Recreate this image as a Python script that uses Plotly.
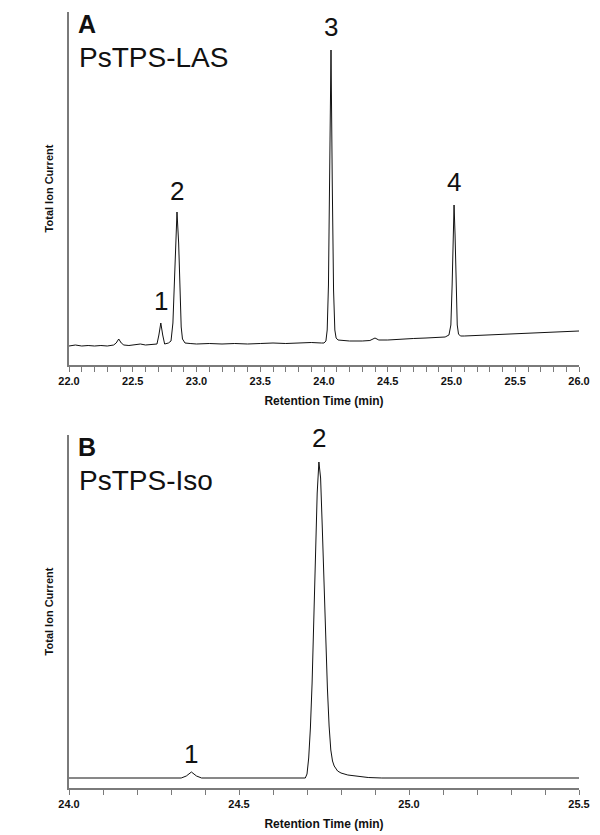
import plotly.graph_objects as go

# ---------------- Data ----------------
# Panel A: PsTPS-LAS chromatogram (retention time, relative total ion current)
time_a = [22.00, 22.05, 22.10, 22.15, 22.20, 22.25, 22.30, 22.35, 22.37, 22.39, 22.41, 22.43,
          22.47, 22.52, 22.56, 22.60, 22.65, 22.69, 22.705, 22.72, 22.735, 22.75, 22.78,
          22.80, 22.815, 22.825, 22.835, 22.847, 22.86, 22.87, 22.88, 22.89, 22.91, 22.95,
          23.00, 23.10, 23.20, 23.30, 23.40, 23.50, 23.60, 23.70, 23.80, 23.90, 23.98,
          24.00, 24.015, 24.025, 24.035, 24.045, 24.055, 24.065, 24.075, 24.085, 24.095, 24.11,
          24.15, 24.20, 24.30, 24.36, 24.40, 24.43, 24.50, 24.60, 24.70, 24.80, 24.90, 24.95,
          24.98, 24.995, 25.005, 25.013, 25.02, 25.028, 25.036, 25.045, 25.055, 25.07,
          25.10, 25.20, 25.30, 25.40, 25.50, 25.60, 25.70, 25.80, 25.90, 26.00]
tic_a = [19, 20, 19, 19.5, 19, 19.5, 19, 20, 22, 26, 22, 20,
         19.5, 20, 21, 20, 20.5, 21, 30, 42, 30, 21, 22,
         24, 42, 78, 122, 153, 122, 75, 38, 26, 22, 21.5,
         21, 21.5, 21, 21.5, 21, 21.5, 22, 21.5, 22, 22.5, 22,
         22, 24, 35, 80, 180, 315, 180, 75, 35, 27, 25,
         24.5, 24, 24, 24.5, 27, 25, 25, 26, 26.5, 27, 28, 28,
         30, 40, 80, 130, 160, 130, 75, 40, 31, 29,
         29, 29.5, 30, 30.5, 31, 31.5, 32, 33, 33.5, 34]

# Panel B: PsTPS-Iso chromatogram
time_b = [24.00, 24.30, 24.33, 24.345, 24.36, 24.375, 24.39, 24.695, 24.70, 24.705, 24.71,
          24.715, 24.72, 24.725, 24.73, 24.735, 24.74, 24.745, 24.75, 24.755, 24.76,
          24.765, 24.77, 24.775, 24.78, 24.79, 24.80, 24.82, 24.85, 24.88, 24.92, 25.50]
tic_b = [10, 10, 10, 12, 16, 12, 10, 10, 14, 30, 60,
         105, 165, 230, 295, 326, 310, 260, 200, 150, 100,
         62, 38, 27, 22, 17, 15, 13, 11.5, 10.5, 10, 10]

# Peak labels
peaks_a_x = [22.72, 22.847, 24.055, 25.02]
peaks_a_y = [64, 174, 338, 183]
peaks_a_lab = ["1", "2", "3", "4"]
peaks_b_x = [24.36, 24.735]
peaks_b_y = [34, 350]
peaks_b_lab = ["1", "2"]

panel_letters = ["A", "B"]
panel_names = ["PsTPS-LAS", "PsTPS-Iso"]
x_title = "Retention Time (min)"
y_title = "Total Ion Current"

# ---------------- Figure ----------------
W, H = 600, 835
FONT = "Liberation Sans, Arial, sans-serif"
AXC = "#7a7a7a"

fig = go.Figure()
fig.add_trace(go.Scatter(x=time_a, y=tic_a, mode="lines",
                         line=dict(color="#111111", width=1), xaxis="x", yaxis="y",
                         showlegend=False, hoverinfo="skip"))
fig.add_trace(go.Scatter(x=time_b, y=tic_b, mode="lines",
                         line=dict(color="#111111", width=1), xaxis="x2", yaxis="y2",
                         showlegend=False, hoverinfo="skip"))

xdom = [69 / W, 579 / W]
ydom_a = [1 - 365 / H, 1 - 12 / H]
ydom_b = [1 - 788 / H, 1 - 435 / H]

def xaxis_cfg(rng, anchor, dom):
    return dict(domain=dom, range=rng, anchor=anchor, showline=True, linecolor=AXC,
                linewidth=1.5, ticks="outside", ticklen=5, tickcolor=AXC, tickwidth=1,
                dtick=0.5, tick0=rng[0], tickformat=".1f", showgrid=False, zeroline=False,
                tickfont=dict(family=FONT, size=11, color="#111", weight="bold"),
                minor=dict(dtick=0.1, ticks="outside", ticklen=5, tickcolor=AXC, showgrid=False),
                title=dict(text=x_title, font=dict(family=FONT, size=12, color="#111", weight="bold"),
                           standoff=11),
                automargin=False, fixedrange=True)

def yaxis_cfg(anchor, dom):
    return dict(domain=dom, range=[0, 353], anchor=anchor, showline=True, linecolor=AXC,
                linewidth=1.5, ticks="", showticklabels=False, showgrid=False, zeroline=False,
                title=dict(text=y_title, font=dict(family=FONT, size=11, color="#111", weight="bold"),
                           standoff=11),
                automargin=False, fixedrange=True)

fig.update_layout(
    width=W, height=H,
    margin=dict(l=0, r=0, t=0, b=0, autoexpand=False),
    paper_bgcolor="white", plot_bgcolor="white",
    xaxis=xaxis_cfg([22.0, 26.0], "y", xdom),
    yaxis=yaxis_cfg("x", ydom_a),
    xaxis2=xaxis_cfg([24.0, 25.5], "y2", xdom),
    yaxis2=yaxis_cfg("x2", ydom_b),
)

ann = []
for x, y, t in zip(peaks_a_x, peaks_a_y, peaks_a_lab):
    ann.append(dict(x=x, y=y, xref="x", yref="y", text=t, showarrow=False,
                    font=dict(family=FONT, size=26, color="#111"), yanchor="middle"))
for x, y, t in zip(peaks_b_x, peaks_b_y, peaks_b_lab):
    ann.append(dict(x=x, y=y, xref="x2", yref="y2", text=t, showarrow=False,
                    font=dict(family=FONT, size=26, color="#111"), yanchor="middle"))

for i, (xr, yr) in enumerate([("x domain", "y domain"), ("x2 domain", "y2 domain")]):
    ann.append(dict(x=0.013, y=[0.966, 0.967][i], xref=xr, yref=yr,
                    text="<b>%s</b>" % panel_letters[i],
                    showarrow=False, xanchor="left", yanchor="middle",
                    font=dict(family=FONT, size=25, color="#111")))
    ann.append(dict(x=0.015, y=[0.8725, 0.870][i], xref=xr, yref=yr, text=panel_names[i],
                    showarrow=False, xanchor="left", yanchor="middle",
                    font=dict(family=FONT, size=28, color="#111")))

fig.update_layout(annotations=ann)

fig.write_html("out.html", config={"displayModeBar": False},
               post_script="document.body.style.margin='0';")
